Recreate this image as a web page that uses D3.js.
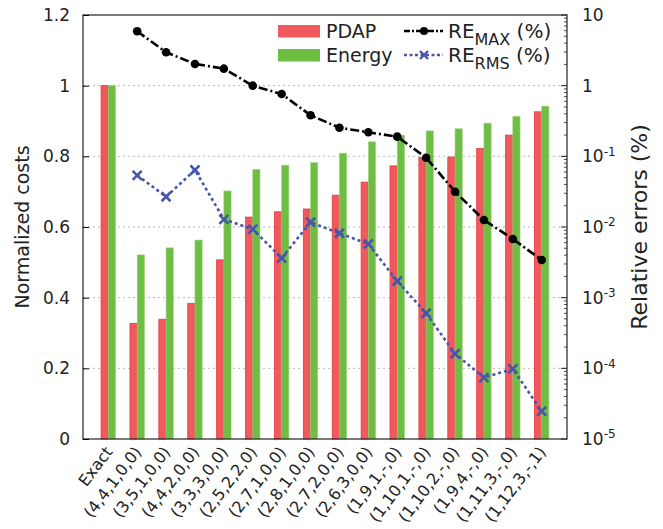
<!DOCTYPE html>
<html>
<head>
<meta charset="utf-8">
<script src="https://cdn.jsdelivr.net/npm/d3@7"></script>
<style>
  body { margin: 0; background: #fff; }
  svg text { font-family: "DejaVu Sans", sans-serif; fill: #222; }
</style>
</head>
<body>
<div id="chart"></div>
<script>
// data
const categories = ["Exact", "(4,4,1,0,0)", "(3,5,1,0,0)", "(4,4,2,0,0)", "(3,3,3,0,0)",
  "(2,5,2,2,0)", "(2,7,1,0,0)", "(2,8,1,0,0)", "(2,7,2,0,0)", "(2,6,3,0,0)",
  "(1,9,1,-,0)", "(1,10,1,-,0)", "(1,10,2,-,0)", "(1,9,4,-,0)", "(1,11,3,-,0)", "(1,12,3,-,1)"];
const pdap = [1, 0.327, 0.339, 0.384, 0.507, 0.628, 0.643, 0.651, 0.690, 0.727, 0.773, 0.797, 0.798, 0.822, 0.860, 0.926];
const energy = [1, 0.521, 0.541, 0.563, 0.702, 0.763, 0.775, 0.782, 0.809, 0.841, 0.860, 0.872, 0.878, 0.894, 0.913, 0.942];
const reMax = [null, 5.88, 2.97, 2.03, 1.74, 1.0, 0.762, 0.381, 0.254, 0.219, 0.190, 0.0957, 0.0316, 0.01257, 0.00677, 0.00341];
const reRms = [null, 0.0539, 0.0268, 0.0641, 0.01285, 0.00929, 0.00364, 0.01167, 0.00815, 0.00575, 0.00172, 0.000601, 0.000161, 7.38e-5, 9.8e-5, 2.47e-5];
const leftTicks = [0, 0.2, 0.4, 0.6, 0.8, 1, 1.2];
const rightTicks = [10, 1, 1e-1, 1e-2, 1e-3, 1e-4, 1e-5];

const W = 663, H = 529;
const m = { top: 15, right: 96, bottom: 90, left: 83 };
const iw = W - m.left - m.right, ih = H - m.top - m.bottom;

const svg = d3.select("#chart").append("svg").attr("width", W).attr("height", H);
const g = svg.append("g").attr("transform", "translate(" + m.left + "," + m.top + ")");

const x = d3.scaleBand().domain(categories).range([0, iw]).paddingInner(0).paddingOuter(0.375);
const y = d3.scaleLinear().domain([0, 1.2]).range([ih, 0]);
const y2 = d3.scaleLog().domain([1e-5, 10]).range([ih, 0]);
const bw = x.step() * 0.25;
const cx = d => x(d) + x.bandwidth() / 2;

// grid
g.selectAll(".grid").data(leftTicks.slice(1, -1)).enter().append("line")
  .attr("x1", 0).attr("x2", iw).attr("y1", d => y(d)).attr("y2", d => y(d))
  .attr("stroke", "#b8b8b8").attr("stroke-width", 1).attr("stroke-dasharray", "2,3");

// bars
g.selectAll(".pdap").data(categories).enter().append("rect")
  .attr("x", d => cx(d) - bw).attr("width", bw)
  .attr("y", (d, i) => y(pdap[i])).attr("height", (d, i) => ih - y(pdap[i]))
  .attr("fill", "#f05a5d").attr("stroke", "#e9383c").attr("stroke-width", 0.8);
g.selectAll(".energy").data(categories).enter().append("rect")
  .attr("x", d => cx(d)).attr("width", bw)
  .attr("y", (d, i) => y(energy[i])).attr("height", (d, i) => ih - y(energy[i]))
  .attr("fill", "#6ebe44").attr("stroke", "#9fd484").attr("stroke-width", 0.6);

// lines
const maxPts = categories.map((c, i) => [cx(c), reMax[i]]).filter(p => p[1] != null);
const rmsPts = categories.map((c, i) => [cx(c), reRms[i]]).filter(p => p[1] != null);
const line = d3.line().x(p => p[0]).y(p => y2(p[1]));

g.append("path").attr("d", line(rmsPts)).attr("fill", "none")
  .attr("stroke", "#4756a8").attr("stroke-width", 2.6).attr("stroke-dasharray", "3,3");
g.selectAll(".xm").data(rmsPts).enter().append("path")
  .attr("d", p => { const X = p[0], Y = y2(p[1]), s = 4.5;
    return "M" + (X - s) + "," + (Y - s) + "L" + (X + s) + "," + (Y + s) + "M" + (X - s) + "," + (Y + s) + "L" + (X + s) + "," + (Y - s); })
  .attr("stroke", "#4756a8").attr("stroke-width", 2.6);

g.append("path").attr("d", line(maxPts)).attr("fill", "none")
  .attr("stroke", "#000").attr("stroke-width", 2.6).attr("stroke-dasharray", "9,3,2,3");
g.selectAll(".dot").data(maxPts).enter().append("circle")
  .attr("cx", p => p[0]).attr("cy", p => y2(p[1])).attr("r", 4.3).attr("fill", "#000");

// frame
g.append("rect").attr("width", iw).attr("height", ih).attr("fill", "none").attr("stroke", "#222").attr("stroke-width", 1.2);

// left axis
const yAxis = d3.axisLeft(y).tickValues(leftTicks).tickSize(-6).tickPadding(13).tickFormat(d3.format(""));
const ya = g.append("g").call(yAxis);
ya.select(".domain").remove();
ya.selectAll("text").style("font-size", "17px");

// right axis, log with minor ticks
const minor = [];
for (let e = -5; e < 1; e++) for (let k = 2; k <= 9; k++) minor.push(k * Math.pow(10, e));
g.selectAll(".minor").data(minor).enter().append("line")
  .attr("x1", iw).attr("x2", iw - 3).attr("y1", d => y2(d)).attr("y2", d => y2(d))
  .attr("stroke", "#222").attr("stroke-width", 0.8);
g.selectAll(".major").data(rightTicks).enter().append("line")
  .attr("x1", iw).attr("x2", iw - 6).attr("y1", d => y2(d)).attr("y2", d => y2(d))
  .attr("stroke", "#222").attr("stroke-width", 1);
const rl = g.selectAll(".rlab").data(rightTicks).enter().append("text")
  .attr("x", iw + 15).attr("y", d => y2(d)).attr("dy", "0.35em").style("font-size", "17px");
rl.each(function (d) {
  const t = d3.select(this), e = Math.round(Math.log10(d));
  if (e >= 0) t.text(d);
  else { t.append("tspan").text("10"); t.append("tspan").attr("dy", "-0.55em").style("font-size", "12px").text(e); }
});

// x labels
g.selectAll(".xlab").data(categories).enter().append("text")
  .attr("transform", d => "translate(" + (cx(d) + 5) + "," + (ih + 13) + ") rotate(-53)")
  .attr("text-anchor", "end").style("font-size", "16px").text(d => d);

// axis titles
svg.append("text").attr("transform", "translate(29," + (m.top + ih / 2) + ") rotate(-90)")
  .attr("text-anchor", "middle").style("font-size", "19px").text("Normalized costs");
svg.append("text").attr("transform", "translate(647," + (m.top + ih / 2) + ") rotate(-90)")
  .attr("text-anchor", "middle").style("font-size", "22px").text("Relative errors (%)");

// legend
const lg = svg.append("g");
lg.append("rect").attr("x", 278).attr("y", 25).attr("width", 42).attr("height", 12.5).attr("fill", "#f05a5d");
lg.append("rect").attr("x", 278).attr("y", 49).attr("width", 42).attr("height", 12.5).attr("fill", "#6ebe44");
lg.append("text").attr("x", 326).attr("y", 38).style("font-size", "19px").text("PDAP");
lg.append("text").attr("x", 326).attr("y", 62).style("font-size", "19px").text("Energy");
lg.append("line").attr("x1", 404).attr("x2", 443).attr("y1", 31).attr("y2", 31)
  .attr("stroke", "#000").attr("stroke-width", 2.4).attr("stroke-dasharray", "6,2,2,2");
lg.append("circle").attr("cx", 424).attr("cy", 31).attr("r", 4).attr("fill", "#000");
lg.append("line").attr("x1", 404).attr("x2", 443).attr("y1", 55).attr("y2", 55)
  .attr("stroke", "#4756a8").attr("stroke-width", 2.4).attr("stroke-dasharray", "3,2.5");
lg.append("path").attr("d", "M420,51L428,59M420,59L428,51").attr("stroke", "#4756a8").attr("stroke-width", 2.4);
[["MAX", 38], ["RMS", 62]].forEach(([s, yy]) => {
  const t = lg.append("text").attr("x", 448).attr("y", yy).style("font-size", "20px");
  t.append("tspan").text("RE");
  t.append("tspan").attr("dy", 7).style("font-size", "16px").text(s);
  t.append("tspan").attr("dy", -7).text(" (%)");
});
</script>
</body>
</html>
